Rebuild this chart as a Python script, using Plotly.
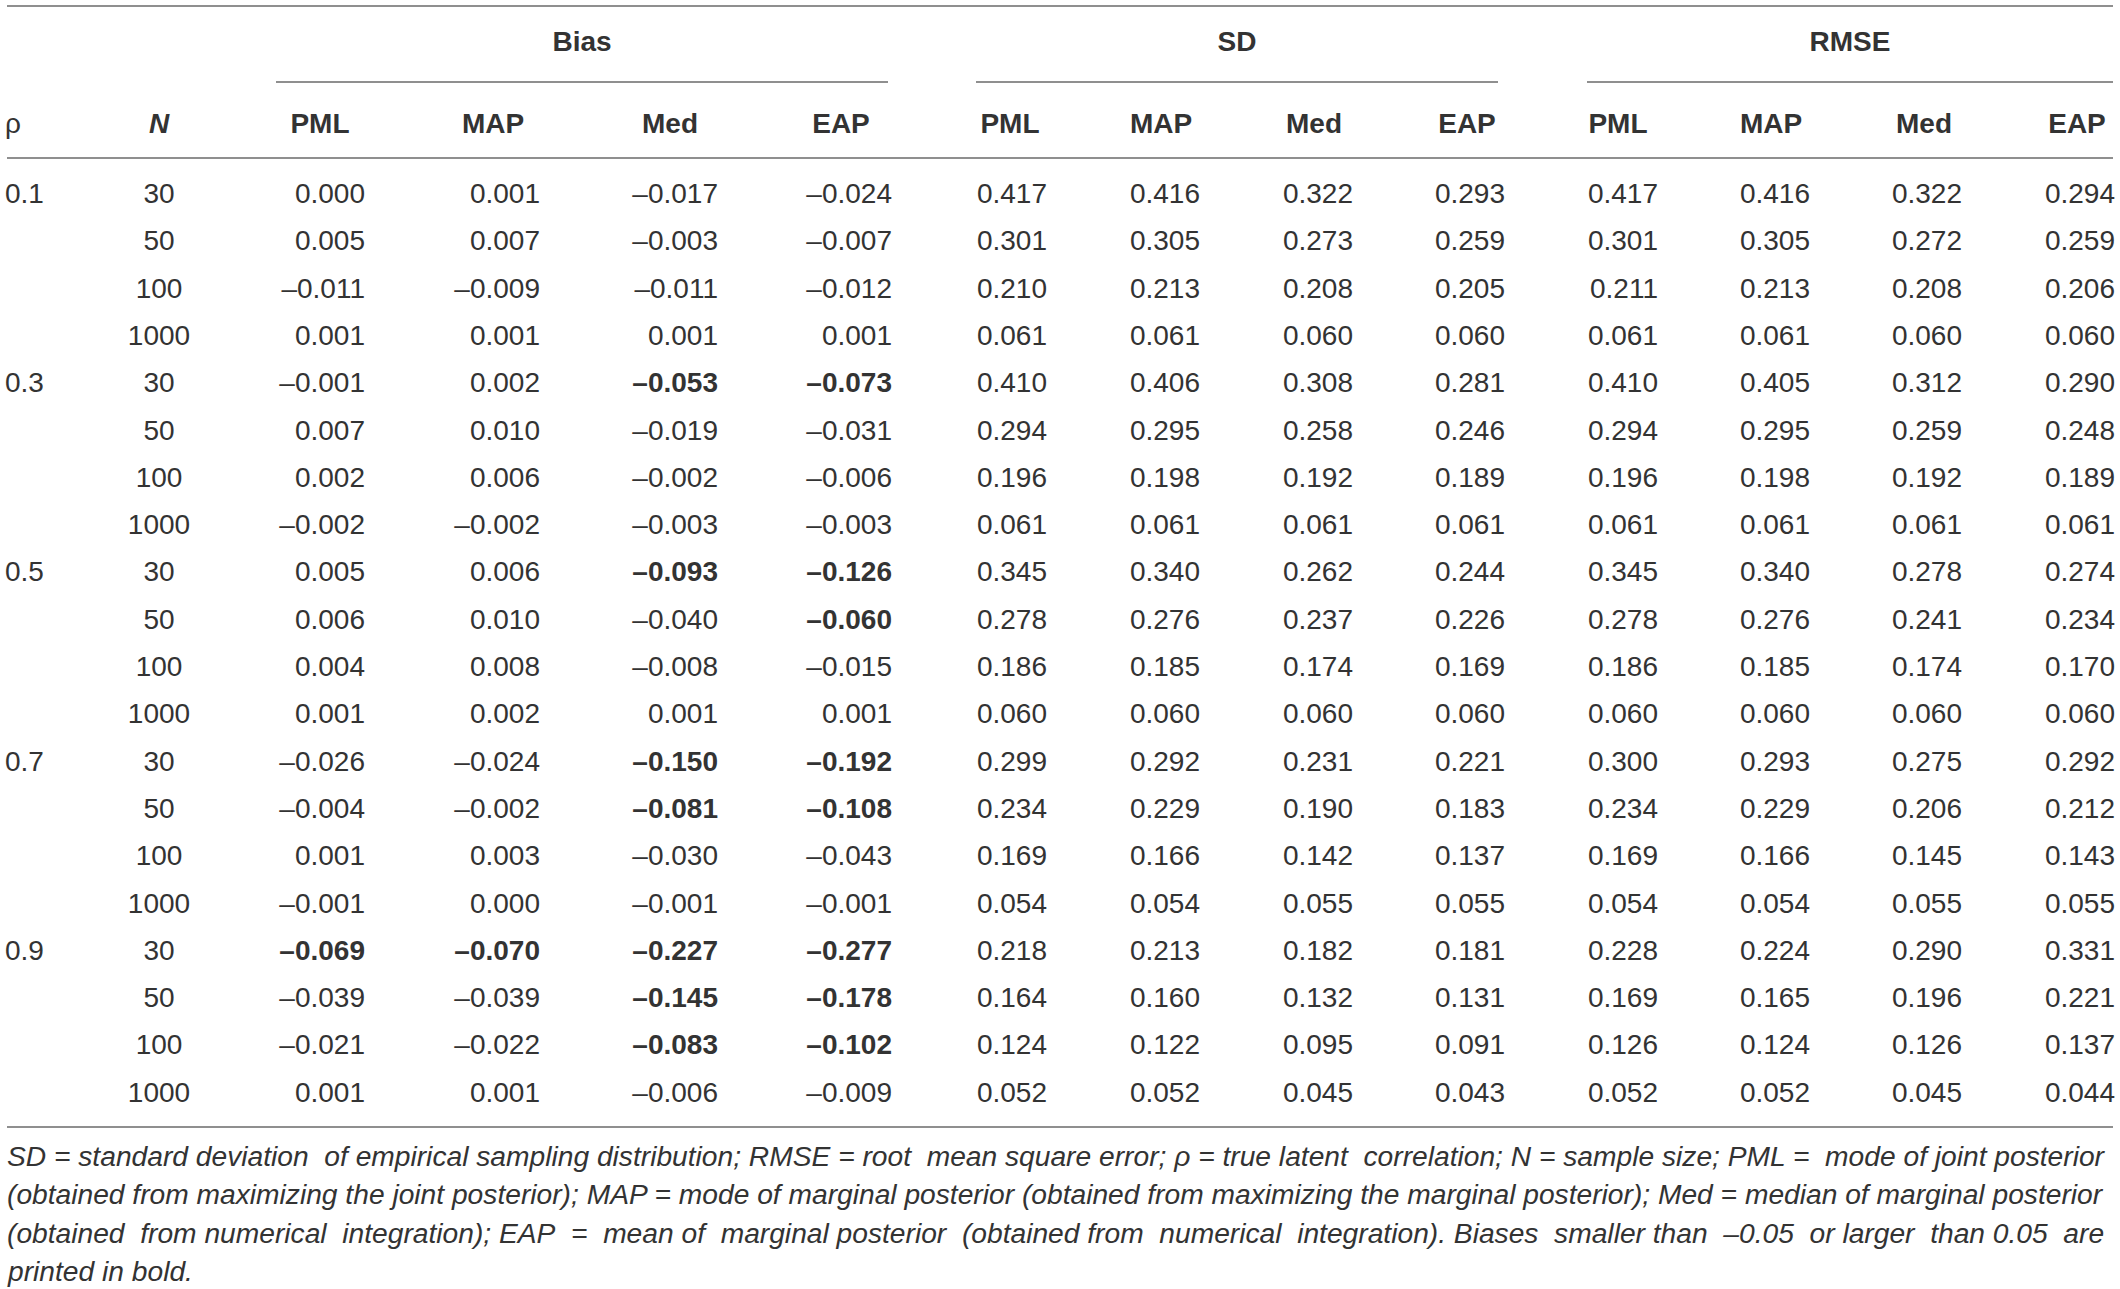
import plotly.graph_objects as go

# ---------------- data ----------------
rho_labels = ["0.1", "0.3", "0.5", "0.7", "0.9"]
n_labels = ["30", "50", "100", "1000"]
groups = ["Bias", "SD", "RMSE"]
estimators = ["PML", "MAP", "Med", "EAP"]

bias_pml = [0.000, 0.005, -0.011, 0.001, -0.001, 0.007, 0.002, -0.002, 0.005, 0.006, 0.004, 0.001,
            -0.026, -0.004, 0.001, -0.001, -0.069, -0.039, -0.021, 0.001]
bias_map = [0.001, 0.007, -0.009, 0.001, 0.002, 0.010, 0.006, -0.002, 0.006, 0.010, 0.008, 0.002,
            -0.024, -0.002, 0.003, 0.000, -0.070, -0.039, -0.022, 0.001]
bias_med = [-0.017, -0.003, -0.011, 0.001, -0.053, -0.019, -0.002, -0.003, -0.093, -0.040, -0.008, 0.001,
            -0.150, -0.081, -0.030, -0.001, -0.227, -0.145, -0.083, -0.006]
bias_eap = [-0.024, -0.007, -0.012, 0.001, -0.073, -0.031, -0.006, -0.003, -0.126, -0.060, -0.015, 0.001,
            -0.192, -0.108, -0.043, -0.001, -0.277, -0.178, -0.102, -0.009]
sd_pml = [0.417, 0.301, 0.210, 0.061, 0.410, 0.294, 0.196, 0.061, 0.345, 0.278, 0.186, 0.060,
          0.299, 0.234, 0.169, 0.054, 0.218, 0.164, 0.124, 0.052]
sd_map = [0.416, 0.305, 0.213, 0.061, 0.406, 0.295, 0.198, 0.061, 0.340, 0.276, 0.185, 0.060,
          0.292, 0.229, 0.166, 0.054, 0.213, 0.160, 0.122, 0.052]
sd_med = [0.322, 0.273, 0.208, 0.060, 0.308, 0.258, 0.192, 0.061, 0.262, 0.237, 0.174, 0.060,
          0.231, 0.190, 0.142, 0.055, 0.182, 0.132, 0.095, 0.045]
sd_eap = [0.293, 0.259, 0.205, 0.060, 0.281, 0.246, 0.189, 0.061, 0.244, 0.226, 0.169, 0.060,
          0.221, 0.183, 0.137, 0.055, 0.181, 0.131, 0.091, 0.043]
rmse_pml = [0.417, 0.301, 0.211, 0.061, 0.410, 0.294, 0.196, 0.061, 0.345, 0.278, 0.186, 0.060,
            0.300, 0.234, 0.169, 0.054, 0.228, 0.169, 0.126, 0.052]
rmse_map = [0.416, 0.305, 0.213, 0.061, 0.405, 0.295, 0.198, 0.061, 0.340, 0.276, 0.185, 0.060,
            0.293, 0.229, 0.166, 0.054, 0.224, 0.165, 0.124, 0.052]
rmse_med = [0.322, 0.272, 0.208, 0.060, 0.312, 0.259, 0.192, 0.061, 0.278, 0.241, 0.174, 0.060,
            0.275, 0.206, 0.145, 0.055, 0.290, 0.196, 0.126, 0.045]
rmse_eap = [0.294, 0.259, 0.206, 0.060, 0.290, 0.248, 0.189, 0.061, 0.274, 0.234, 0.170, 0.060,
            0.292, 0.212, 0.143, 0.055, 0.331, 0.221, 0.137, 0.044]

bold_threshold = 0.05

footnote_lines = [
    "SD = standard deviation of empirical sampling distribution; RMSE = root mean square error; \u03c1 = true latent correlation; N = sample size; PML = mode of joint posterior",
    "(obtained from maximizing the joint posterior); MAP = mode of marginal posterior (obtained from maximizing the marginal posterior); Med = median of marginal posterior",
    "(obtained from numerical integration); EAP = mean of marginal posterior (obtained from numerical integration). Biases smaller than \u20130.05 or larger than 0.05 are",
    "printed in bold.",
]
# extra spaces used to approximate the justified footnote lines
footnote_pad = [4, 0, 13, 0]

# ---------------- layout constants (pixels) ----------------
W, H = 2120, 1289
FONT = "Liberation Sans, Arial, Helvetica, sans-serif"
TXT = "#333333"
LINE = "#8f8f8f"
FS = 28
ROW0, ROW_STEP = 196, 47.3
HEAD_Y, GROUP_Y = 126, 44
RHO_X, N_X = 5, 159
col_right = [[365, 540, 718, 892], [1047, 1200, 1353, 1505], [1658, 1810, 1962, 2115]]
col_head = [[320, 493, 670, 841], [1010, 1161, 1314, 1467], [1618, 1771, 1924, 2077]]
group_span = [(276, 888), (976, 1498), (1587, 2113)]
TOP_Y, UNDER_Y, HEADLINE_Y, BOTTOM_Y = 6, 82, 158, 1127
FOOT_X, FOOT_Y0, FOOT_STEP, FOOT_FS = 5, 1156, 38.4, 28.2

series = [[bias_pml, bias_map, bias_med, bias_eap],
          [sd_pml, sd_map, sd_med, sd_eap],
          [rmse_pml, rmse_map, rmse_med, rmse_eap]]


def fmt(v, g):
    s = f"{v:.3f}".replace("-", "\u2013")
    if g == 0 and abs(v) > bold_threshold:
        s = f"<b>{s}</b>"
    return s


def justify(line, extra):
    words = line.split(" ")
    gaps = len(words) - 1
    if extra <= 0 or gaps <= 0:
        return line
    out = words[0]
    given = 0
    for k in range(1, len(words)):
        target = round(extra * k / gaps)
        add = target - given
        given = target
        out += "\u00a0" * add + " " + words[k]
    return out


n_rows = len(rho_labels) * len(n_labels)
row_y = [ROW0 + i * ROW_STEP for i in range(n_rows)]

fig = go.Figure()
textfont = dict(family=FONT, size=FS, color=TXT)

# rho column
fig.add_trace(go.Scatter(
    x=[RHO_X] * len(rho_labels), y=[row_y[i * len(n_labels)] for i in range(len(rho_labels))],
    text=rho_labels, mode="text", textposition="middle right", textfont=textfont,
    hoverinfo="skip", showlegend=False))
# N column
fig.add_trace(go.Scatter(
    x=[N_X] * n_rows, y=row_y, text=[n_labels[i % len(n_labels)] for i in range(n_rows)],
    mode="text", textposition="middle center", textfont=textfont,
    hoverinfo="skip", showlegend=False))

# value columns
for g, grp in enumerate(series):
    for e, vals in enumerate(grp):
        fig.add_trace(go.Scatter(
            x=[col_right[g][e]] * n_rows, y=row_y, text=[fmt(v, g) for v in vals],
            mode="text", textposition="middle left", textfont=textfont,
            hoverinfo="skip", showlegend=False))

# column headers
hx = [RHO_X, N_X] + [x for grp in col_head for x in grp]
ht = ["\u03c1", "<i><b>N</b></i>"] + [f"<b>{e}</b>" for _ in groups for e in estimators]
hp = ["middle right", "middle center"] + ["middle center"] * (len(groups) * len(estimators))
fig.add_trace(go.Scatter(
    x=hx, y=[HEAD_Y] * len(hx), text=ht, mode="text", textposition=hp, textfont=textfont,
    hoverinfo="skip", showlegend=False))

# group headers
fig.add_trace(go.Scatter(
    x=[(a + b) / 2 for a, b in group_span], y=[GROUP_Y] * len(groups),
    text=[f"<b>{g}</b>" for g in groups], mode="text", textposition="middle center",
    textfont=textfont, hoverinfo="skip", showlegend=False))

# rules
shapes = []
for yy in (TOP_Y, HEADLINE_Y, BOTTOM_Y):
    shapes.append(dict(type="line", xref="x", yref="y", x0=7, x1=2113, y0=yy, y1=yy,
                       line=dict(color=LINE, width=2)))
for a, b in group_span:
    shapes.append(dict(type="line", xref="x", yref="y", x0=a, x1=b, y0=UNDER_Y, y1=UNDER_Y,
                       line=dict(color=LINE, width=2)))

# footnote
annotations = []
for i, line in enumerate(footnote_lines):
    annotations.append(dict(
        x=FOOT_X, y=FOOT_Y0 + i * FOOT_STEP, xref="x", yref="y",
        text=f"<i>{justify(line, footnote_pad[i])}</i>",
        showarrow=False, xanchor="left", yanchor="middle",
        font=dict(family=FONT, size=FOOT_FS, color=TXT)))

fig.update_layout(
    width=W, height=H, margin=dict(l=0, r=0, t=0, b=0),
    paper_bgcolor="white", plot_bgcolor="white",
    xaxis=dict(range=[0, W], visible=False, fixedrange=True),
    yaxis=dict(range=[H, 0], visible=False, fixedrange=True),
    shapes=shapes, annotations=annotations,
)

fig.write_html("out.html", config={"displayModeBar": False},
               post_script="document.body.style.margin='0';document.body.style.overflow='hidden';")
